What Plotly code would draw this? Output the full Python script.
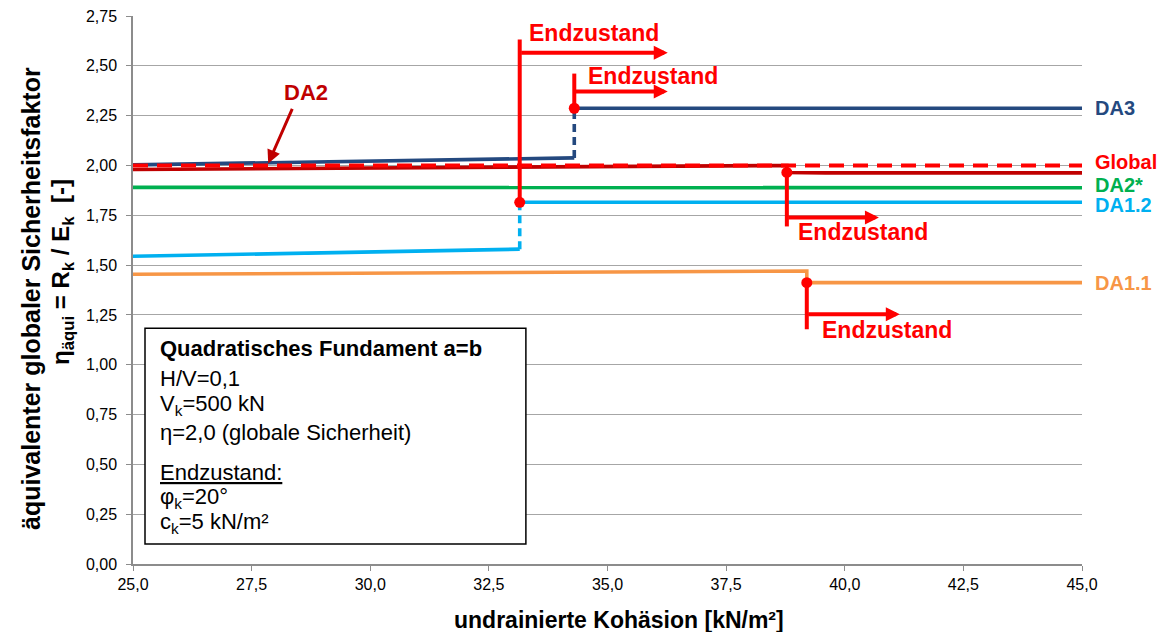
import plotly.graph_objects as go

# ---------------- data ----------------
x_ticks = [25.0, 27.5, 30.0, 32.5, 35.0, 37.5, 40.0, 42.5, 45.0]
y_ticks = [0.0, 0.25, 0.5, 0.75, 1.0, 1.25, 1.5, 1.75, 2.0, 2.25, 2.5, 2.75]

da3_x_before = [25.0, 34.3]
da3_y_before = [2.003, 2.038]
da3_x_after = [34.3, 45.0]
da3_y_after = [2.287, 2.287]

da12_x_before = [25.0, 33.15]
da12_y_before = [1.544, 1.580]
da12_x_after = [33.15, 45.0]
da12_y_after = [1.815, 1.815]

da2_x = [25.0, 38.78, 38.78, 39.6, 45.0]
da2_y = [1.980, 2.000, 1.965, 1.963, 1.963]

global_x = [25.0, 45.0]
global_y = [2.0, 2.0]

da2s_x = [25.0, 45.0]
da2s_y = [1.89, 1.888]

da11_x = [25.0, 39.2, 39.2, 45.0]
da11_y = [1.454, 1.470, 1.412, 1.412]

# Endzustand markers
end_x = [33.15, 34.3, 38.78, 39.2]
end_y = [1.815, 2.287, 1.965, 1.412]
end_tip_y = [2.632, 2.461, 1.694, 1.178]
end_arrow_y = [2.566, 2.371, 1.739, 1.253]
end_arrow_x = [36.27, 36.27, 40.72, 41.16]
end_label_x = [34.72, 35.96, 40.38, 40.88]
end_label_y = [2.667, 2.451, 1.664, 1.173]

series_labels = ["DA3", "Global", "DA2*", "DA1.2", "DA1.1"]
series_label_y = [2.289, 2.017, 1.900, 1.800, 1.408]

# ---------------- style ----------------
FONT = "Liberation Sans, Arial, sans-serif"
C_DA3 = "#24497F"
C_DA2 = "#C00000"
C_GLOBAL = "#FF0000"
C_DA2S = "#00B050"
C_DA12 = "#00B0F0"
C_DA11 = "#F79646"
RED = "#FF0000"
label_colors = [C_DA3, C_GLOBAL, C_DA2S, C_DA12, C_DA11]
LW = 3.6

# page geometry (browser body has an 8px margin)
OFF = 8
PL, PR, PT, PB = 133, 1082, 16, 564   # plot area in page pixels
Y0, Y1 = 0.0, 2.75


def px(page_x):
    return (page_x - PL) / (PR - PL)


def py(page_y):
    return (PB - page_y) / (PB - PT)


def yfrac(v):
    return (v - Y0) / (Y1 - Y0)


fig = go.Figure()


def line(x, y, color, dash="solid", width=LW):
    fig.add_trace(go.Scatter(x=x, y=y, mode="lines",
                             line=dict(color=color, width=width, dash=dash),
                             showlegend=False, hoverinfo="skip"))


line(da11_x, da11_y, C_DA11)
line(da12_x_before, da12_y_before, C_DA12)
line([da12_x_before[-1], da12_x_after[0]], [da12_y_before[-1], da12_y_after[0]], C_DA12, dash="8px,5px")
line(da12_x_after, da12_y_after, C_DA12)
line(da2s_x, da2s_y, C_DA2S)
line(da2_x, da2_y, C_DA2)
line(da3_x_before, da3_y_before, C_DA3)
line([da3_x_before[-1], da3_x_after[0]], [da3_y_before[-1], da3_y_after[0]], C_DA3, dash="8px,5px")
line(da3_x_after, da3_y_after, C_DA3)
line(global_x, global_y, C_GLOBAL, dash="15px,9px", width=4)

# red vertical bracket lines
for xe, ye, yt in zip(end_x, end_y, end_tip_y):
    fig.add_trace(go.Scatter(x=[xe, xe], y=[ye, yt], mode="lines",
                             line=dict(color=RED, width=4),
                             showlegend=False, hoverinfo="skip", cliponaxis=False))
# red dots
fig.add_trace(go.Scatter(x=end_x, y=end_y, mode="markers",
                         marker=dict(color=RED, size=11),
                         showlegend=False, hoverinfo="skip", cliponaxis=False))

annotations = []
# horizontal arrows + labels
for xe, ya, xa, lx, ly in zip(end_x, end_arrow_y, end_arrow_x, end_label_x, end_label_y):
    annotations.append(dict(x=xa, y=ya, ax=xe, ay=ya, xref="x", yref="y",
                            axref="x", ayref="y", text="", showarrow=True,
                            arrowhead=2, arrowsize=0.7, arrowwidth=4,
                            arrowcolor=RED))
    annotations.append(dict(x=lx, y=ly, xref="x", yref="y", text="<b>Endzustand</b>",
                            showarrow=False, font=dict(family=FONT, size=23, color=RED),
                            xanchor="center", yanchor="middle"))

# DA2 label with arrow
annotations.append(dict(x=27.85, y=2.01, ax=28.37, ay=2.291, xref="x", yref="y",
                        axref="x", ayref="y", text="", showarrow=True,
                        arrowhead=2, arrowsize=0.9, arrowwidth=3, arrowcolor=C_DA2))
annotations.append(dict(x=28.65, y=2.366, xref="x", yref="y", text="<b>DA2</b>",
                        showarrow=False, font=dict(family=FONT, size=22, color=C_DA2),
                        xanchor="center", yanchor="middle"))

# right-hand series labels (outside the x range -> paper x, data-derived y)
for lab, ly, col in zip(series_labels, series_label_y, label_colors):
    annotations.append(dict(x=px(1093), y=yfrac(ly), xref="paper", yref="paper",
                            text="<b>%s</b>" % lab,
                            showarrow=False, font=dict(family=FONT, size=20, color=col),
                            xanchor="left", yanchor="middle", height=18))

# info box text
box_lines = ["<b>Quadratisches Fundament a=b</b>", "H/V=0,1", "V<sub>k</sub>=500 kN",
             "η=2,0 (globale Sicherheit)", "<u>Endzustand:</u>",
             "φ<sub>k</sub>=20°", "c<sub>k</sub>=5 kN/m²"]
box_line_y = [1.083, 0.932, 0.797, 0.662, 0.461, 0.331, 0.206]
for t, ly in zip(box_lines, box_line_y):
    annotations.append(dict(x=25.527, y=ly, xref="x", yref="y", text=t, showarrow=False,
                            font=dict(family=FONT, size=22, color="#000000"),
                            xanchor="left", yanchor="middle"))

# axis titles
annotations.append(dict(x=px(31), y=py(299), xref="paper", yref="paper",
                        text="<b>äquivalenter globaler Sicherheitsfaktor</b>",
                        textangle=-90, showarrow=False,
                        font=dict(family=FONT, size=25, color="#000000"),
                        xanchor="center", yanchor="middle"))
annotations.append(dict(x=px(62), y=py(272), xref="paper", yref="paper",
                        text="<b>η<sub>äqui</sub> = R<sub>k</sub> / E<sub>k</sub>  [-]</b>",
                        textangle=-90, showarrow=False,
                        font=dict(family=FONT, size=24, color="#000000"),
                        xanchor="center", yanchor="middle"))
annotations.append(dict(x=px(619), y=py(620), xref="paper", yref="paper",
                        text="<b>undrainierte Kohäsion [kN/m²]</b>", showarrow=False,
                        font=dict(family=FONT, size=23, color="#000000"),
                        xanchor="center", yanchor="middle"))

fig.add_shape(type="rect", xref="x", yref="y", x0=25.253, x1=33.28, y0=0.100, y1=1.183,
              line=dict(color="#000000", width=1.5), fillcolor="white", layer="above")

W, H = 1170 - OFF, 632 - OFF
fig.update_layout(
    width=W, height=H,
    margin=dict(l=PL - OFF, r=W - (PR - OFF), t=PT - OFF, b=H - (PB - OFF), autoexpand=False),
    paper_bgcolor="white", plot_bgcolor="white",
    separators=",.",
    annotations=annotations,
    font=dict(family=FONT, size=16, color="#000000"),
    xaxis=dict(range=[25, 45], tickvals=x_ticks, tickformat=".1f", automargin=False,
               showgrid=False, zeroline=False, showline=True, linecolor="#8C8C8C",
               linewidth=1.5, ticks="outside", ticklen=5, tickcolor="#8C8C8C",
               ticklabeloverflow="allow",
               tickfont=dict(family=FONT, size=16, color="#000000")),
    yaxis=dict(range=[Y0, Y1], tickvals=y_ticks, tickformat=".2f", automargin=False,
               showgrid=True, gridcolor="#A6A6A6", gridwidth=1.3, zeroline=False,
               showline=True, linecolor="#8C8C8C", linewidth=1.5, ticks="outside",
               ticklen=5, tickcolor="#8C8C8C", ticklabelstandoff=6,
               ticklabeloverflow="allow",
               tickfont=dict(family=FONT, size=16, color="#000000")),
)

fig.write_html("out.html")
